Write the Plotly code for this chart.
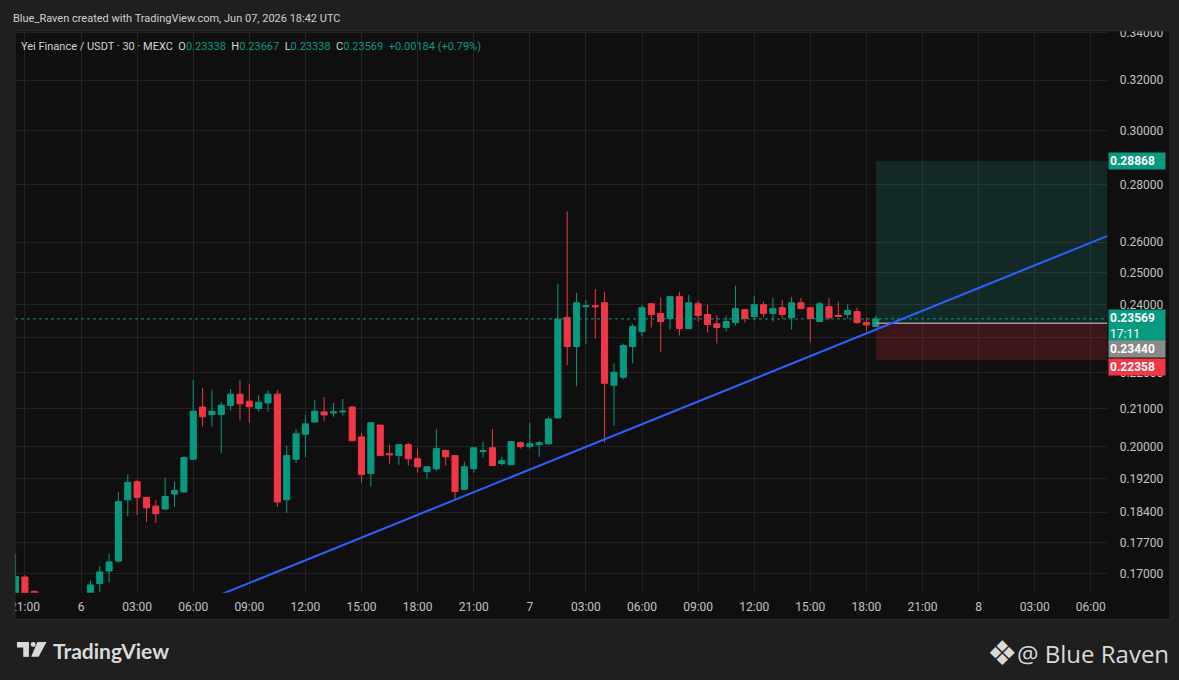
import math
import pandas as pd
import plotly.graph_objects as go

W, H = 1179, 680

# Yei Finance / USDT, 30 minute bars on MEXC
first_bar = "2026-06-05 20:30"
opens = [0.1645, 0.1693, 0.1662, 0.1630, 0.1625, 0.1612, 0.1628, 0.1640,
         0.1648, 0.1679, 0.1706, 0.1728, 0.1869, 0.1913, 0.1875, 0.1854,
         0.1847, 0.1883, 0.1888, 0.1969, 0.2105, 0.2085, 0.2085, 0.2109,
         0.2140, 0.2121, 0.2101, 0.2116, 0.2140, 0.1869, 0.1969, 0.2033,
         0.2065, 0.2092, 0.2089, 0.2092, 0.2105, 0.2026, 0.1933, 0.2057,
         0.1983, 0.1978, 0.2006, 0.1970, 0.1938, 0.1945, 0.1991, 0.1978,
         0.1894, 0.1945, 0.1988, 0.1998, 0.1958, 0.1955, 0.2011, 0.2001,
         0.2006, 0.2008, 0.2076, 0.2361, 0.2275, 0.2394, 0.2397, 0.2406,
         0.2165, 0.2187, 0.2275, 0.2319, 0.2403, 0.2373, 0.2358, 0.2425,
         0.2328, 0.2403, 0.2370, 0.2342, 0.2331, 0.2346, 0.2385, 0.2364,
         0.2400, 0.2373, 0.2391, 0.2361, 0.2406, 0.2391, 0.2349, 0.2394,
         0.2367, 0.2370, 0.2379, 0.2346, 0.23338]
highs = [0.1744, 0.1697, 0.1664, 0.1645, 0.1640, 0.1635, 0.1648, 0.1655,
         0.1685, 0.1717, 0.1744, 0.1887, 0.1931, 0.1917, 0.1876, 0.1868,
         0.1923, 0.1913, 0.1978, 0.2179, 0.2157, 0.2152, 0.2118, 0.2154,
         0.2179, 0.2169, 0.2137, 0.2151, 0.2151, 0.2003, 0.2047, 0.2084,
         0.2124, 0.2132, 0.2116, 0.2127, 0.2108, 0.2037, 0.2063, 0.2057,
         0.2006, 0.2006, 0.2011, 0.1996, 0.1950, 0.2047, 0.1993, 0.1978,
         0.1963, 0.1998, 0.2014, 0.2047, 0.1975, 0.2014, 0.2014, 0.2063,
         0.2016, 0.2079, 0.2465, 0.2705, 0.2437, 0.2415, 0.2449, 0.2440,
         0.2226, 0.2283, 0.2342, 0.2400, 0.2406, 0.2421, 0.2425, 0.2440,
         0.2431, 0.2412, 0.2400, 0.2367, 0.2367, 0.2459, 0.2385, 0.2428,
         0.2409, 0.2421, 0.2415, 0.2425, 0.2421, 0.2391, 0.2409, 0.2421,
         0.2409, 0.2403, 0.2391, 0.2361, 0.23667]
lows = [0.1638, 0.1645, 0.1622, 0.1610, 0.1600, 0.1598, 0.1615, 0.1630,
        0.1640, 0.1660, 0.1681, 0.1724, 0.1830, 0.1833, 0.1817, 0.1814,
        0.1847, 0.1852, 0.1886, 0.1969, 0.2053, 0.2053, 0.1985, 0.2096,
        0.2069, 0.2063, 0.2093, 0.2093, 0.1852, 0.1838, 0.1960, 0.1975,
        0.2065, 0.2067, 0.2079, 0.2082, 0.2016, 0.1911, 0.1901, 0.1978,
        0.1958, 0.1955, 0.1953, 0.1935, 0.1921, 0.1940, 0.1953, 0.1870,
        0.1892, 0.1935, 0.1973, 0.1953, 0.1953, 0.1955, 0.1996, 0.1996,
        0.1975, 0.2006, 0.2076, 0.2221, 0.2162, 0.2281, 0.2298, 0.2011,
        0.2055, 0.2181, 0.2226, 0.2304, 0.2331, 0.2258, 0.2325, 0.2307,
        0.2328, 0.2349, 0.2316, 0.2284, 0.2319, 0.2337, 0.2346, 0.2352,
        0.2361, 0.2349, 0.2358, 0.2325, 0.2388, 0.2287, 0.2349, 0.2352,
        0.2364, 0.2358, 0.2342, 0.2319, 0.23338]
closes = [0.1694, 0.1656, 0.1630, 0.1625, 0.1612, 0.1628, 0.1640, 0.1648,
          0.1676, 0.1704, 0.1726, 0.1865, 0.1911, 0.1875, 0.1850, 0.1836,
          0.1877, 0.1892, 0.1973, 0.2094, 0.2079, 0.2094, 0.2110, 0.2140,
          0.2114, 0.2106, 0.2118, 0.2140, 0.1864, 0.1978, 0.2034, 0.2060,
          0.2094, 0.2084, 0.2092, 0.2094, 0.2016, 0.1931, 0.2063, 0.1978,
          0.1980, 0.2006, 0.1970, 0.1950, 0.1950, 0.1996, 0.1975, 0.1889,
          0.1950, 0.1998, 0.1991, 0.1953, 0.1965, 0.2014, 0.2001, 0.2008,
          0.2011, 0.2073, 0.2356, 0.2275, 0.2406, 0.2397, 0.2394, 0.2170,
          0.2201, 0.2278, 0.2334, 0.2391, 0.2370, 0.2349, 0.2425, 0.2328,
          0.2406, 0.2367, 0.2340, 0.2331, 0.2349, 0.2388, 0.2358, 0.2400,
          0.2373, 0.2388, 0.2370, 0.2406, 0.2388, 0.2358, 0.2403, 0.2361,
          0.2364, 0.2382, 0.2346, 0.23385, 0.23569]

tick_labels = ["21:00", "6", "03:00", "06:00", "09:00", "12:00", "15:00",
               "18:00", "21:00", "7", "03:00", "06:00", "09:00", "12:00",
               "15:00", "18:00", "21:00", "8", "03:00", "06:00"]
price_ticks = [0.17, 0.177, 0.184, 0.192, 0.20, 0.21, 0.22, 0.23, 0.24,
               0.25, 0.26, 0.28, 0.30, 0.32, 0.34]
# 0.23 sits under the price labels, only its grid line shows
price_tick_labels = ["0.17000", "0.17700", "0.18400", "0.19200", "0.20000",
                     "0.21000", "0.22000", "", "0.24000", "0.25000",
                     "0.26000", "0.28000", "0.30000", "0.32000", "0.34000"]

last_price = 0.23569
entry_price = 0.23440
target_price = 0.28868
stop_price = 0.22358
countdown = "17:11"

trend_times = ["2026-06-06 06:00", "2026-06-08 07:00"]
trend_prices = [0.1632, 0.2624]
position_times = ["2026-06-07 18:30", "2026-06-08 07:00"]

view_start, view_end = "2026-06-05 20:28", "2026-06-08 06:53"
view_low, view_high = 0.16594, 0.34095

UP = "#089981"
DOWN = "#f23645"
OUTER = "#1f1f1f"
PANE = "#0f0f0f"
GRID = "#222222"
TEXT = "#c3c3c3"
FONT = "Roboto"

times = pd.date_range(first_bar, periods=len(opens), freq="30min")
tick_times = pd.date_range("2026-06-05 21:00", periods=len(tick_labels), freq="3h")


def px(x):
    return x / W


def py(y):
    return 1 - y / H


fig = go.Figure()

# long position tool: profit zone and stop zone
t0, t1 = position_times
fig.add_trace(go.Scatter(
    x=[t0, t1, t1, t0, t0],
    y=[entry_price, entry_price, target_price, target_price, entry_price],
    fill="toself", fillcolor="rgba(34,171,148,0.17)", mode="lines",
    line=dict(width=0), hoverinfo="skip"))
fig.add_trace(go.Scatter(
    x=[t0, t1, t1, t0, t0],
    y=[stop_price, stop_price, entry_price, entry_price, stop_price],
    fill="toself", fillcolor="rgba(242,54,69,0.19)", mode="lines",
    line=dict(width=0), hoverinfo="skip"))

# last price line
fig.add_trace(go.Scatter(
    x=[view_start, view_end], y=[last_price, last_price], mode="lines",
    line=dict(color=UP, width=1, dash="dot"), hoverinfo="skip"))

# entry line
fig.add_trace(go.Scatter(
    x=position_times, y=[entry_price, entry_price], mode="lines",
    line=dict(color="#9a9a9a", width=1.5), hoverinfo="skip"))

fig.add_trace(go.Candlestick(
    x=times, open=opens, high=highs, low=lows, close=closes,
    increasing=dict(line=dict(color=UP, width=1), fillcolor=UP),
    decreasing=dict(line=dict(color=DOWN, width=1), fillcolor=DOWN),
    whiskerwidth=0, hoverinfo="skip"))

# trend line
fig.add_trace(go.Scatter(
    x=trend_times, y=trend_prices, mode="lines",
    line=dict(color="#2962ff", width=2), hoverinfo="skip"))

shapes = [
    dict(type="rect", xref="paper", yref="paper", x0=px(10), x1=px(1170),
         y0=py(619), y1=py(26), fillcolor=PANE, line_width=0, layer="below"),
    # frame pieces that clip the axis labels at the pane edge
    dict(type="rect", xref="paper", yref="paper", x0=0, x1=1, y0=py(26), y1=1,
         fillcolor=OUTER, line_width=0, layer="above"),
    dict(type="rect", xref="paper", yref="paper", x0=0, x1=px(10), y0=0, y1=1,
         fillcolor=OUTER, line_width=0, layer="above"),
    dict(type="rect", xref="paper", yref="paper", x0=px(10), x1=px(1170),
         y0=py(619), y1=py(26), line=dict(color="#2c2c2c", width=1),
         layer="above"),
    # TradingView logo
    dict(type="rect", xref="paper", yref="paper", x0=px(12), x1=px(24),
         y0=py(647.3), y1=py(641.7), fillcolor="#d9d9d9", line_width=0),
    dict(type="rect", xref="paper", yref="paper", x0=px(18.3), x1=px(24),
         y0=py(656.7), y1=py(641.7), fillcolor="#d9d9d9", line_width=0),
    dict(type="circle", xref="paper", yref="paper", x0=px(25.8), x1=px(30.8),
         y0=py(646.7), y1=py(641.7), fillcolor="#d9d9d9", line_width=0),
    dict(type="path", xref="paper", yref="paper",
         path=f"M {px(32.5)} {py(641.7)} L {px(41.7)} {py(641.7)} "
              f"L {px(33.8)} {py(656.7)} L {px(26.3)} {py(656.7)} Z",
         fillcolor="#d9d9d9", line_width=0),
]

legend_parts = [("O", opens[-1]), ("H", highs[-1]), ("L", lows[-1]), ("C", closes[-1])]
change = closes[-1] - closes[-2]
gap = "\u00a0\u00a0"
legend_text = "Yei Finance / USDT · 30 · MEXC"
for name, val in legend_parts:
    legend_text += f"{gap}{name}<span style='color:{UP}'>{val:.5f}</span>"
legend_text += (f"{gap}<span style='color:{UP}'>+{change:.5f} "
                f"(+{change / closes[-2] * 100:.2f}%)</span>")

annotations = [
    dict(text="Blue_Raven created with TradingView.com, Jun 07, 2026 18:42 UTC",
         xref="paper", yref="paper", x=px(6), y=py(14), xanchor="left",
         yanchor="middle", showarrow=False,
         font=dict(family=FONT, size=11, color="#d1d1d1")),
    dict(text=legend_text, xref="paper", yref="paper", x=px(14), y=py(42),
         xanchor="left", yanchor="middle", showarrow=False,
         font=dict(family=FONT, size=11, color="#d1d4dc")),
    dict(text="<b>TradingView</b>", xref="paper", yref="paper", x=px(46),
         y=py(650), xanchor="left", yanchor="middle", showarrow=False,
         font=dict(family="Lato", size=21, color="#d9d9d9")),
    dict(text="@ Blue Raven", xref="paper", yref="paper", x=px(1171),
         y=py(653), xanchor="right", yanchor="middle", showarrow=False,
         font=dict(family="Open Sans", size=24, color="#d9d9d9")),
    dict(text="❖", xref="paper", yref="paper", x=px(1001), y=py(653),
         xanchor="center", yanchor="middle", showarrow=False,
         font=dict(family="DejaVu Sans", size=34, color="#d9d9d9")),
]

# price labels on the scale
scale_labels = [
    (target_price, f"<b>{target_price:.5f}</b>", UP, 0),
    (last_price, f"<b>{last_price:.5f}</b><br>{countdown}", UP, -7),
    (entry_price, f"<b>{entry_price:.5f}</b>", "#8a8a8a", -26),
    (stop_price, f"<b>{stop_price:.5f}</b>", DOWN, -7),
]
for price, label, color, shift in scale_labels:
    annotations.append(dict(
        text=label, xref="paper", yref="y", x=px(1108), y=math.log10(price),
        xanchor="left", yanchor="middle", yshift=shift, align="left",
        showarrow=False, bgcolor=color, borderpad=1, width=54,
        font=dict(family=FONT, size=12, color="#ffffff")))

fig.update_layout(
    width=W, height=H, margin=dict(l=0, r=0, t=0, b=0),
    paper_bgcolor=OUTER, plot_bgcolor=PANE, showlegend=False,
    hovermode=False, shapes=shapes, annotations=annotations,
    boxgap=0.35, boxgroupgap=0,
    xaxis=dict(
        type="date", domain=[px(10), px(1107)], range=[view_start, view_end],
        rangeslider=dict(visible=False), tickvals=tick_times,
        ticktext=tick_labels, showgrid=True, gridcolor=GRID, gridwidth=1,
        zeroline=False, showline=False, ticks="outside", ticklen=3,
        tickcolor="rgba(0,0,0,0)", tickfont=dict(family=FONT, size=12, color=TEXT)),
    yaxis=dict(
        type="log", side="right", domain=[py(592), py(26)],
        range=[math.log10(view_low), math.log10(view_high)],
        tickvals=price_ticks, ticktext=price_tick_labels, showgrid=True,
        gridcolor=GRID, gridwidth=1, zeroline=False, showline=False,
        ticks="outside", ticklen=9, tickcolor="rgba(0,0,0,0)",
        tickfont=dict(family=FONT, size=12, color=TEXT)),
)

fig.write_html("out.html", config={"displayModeBar": False},
               post_script="document.body.style.margin='0';"
                           "document.body.style.background='#1f1f1f';")
